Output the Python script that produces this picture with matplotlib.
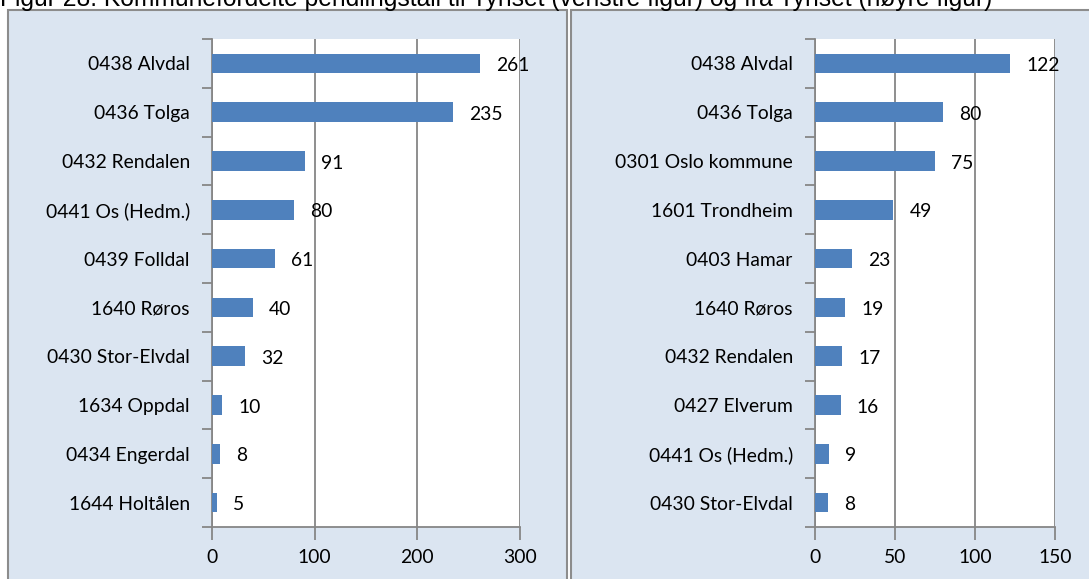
import matplotlib
matplotlib.use("Agg")
import matplotlib.pyplot as plt
from matplotlib.patches import Rectangle

left_labels = ["0438 Alvdal", "0436 Tolga", "0432 Rendalen", "0441 Os (Hedm.)", "0439 Folldal",
               "1640 Røros", "0430 Stor-Elvdal", "1634 Oppdal", "0434 Engerdal", "1644 Holtålen"]
left_values = [261, 235, 91, 80, 61, 40, 32, 10, 8, 5]
left_ticks = [0, 100, 200, 300]

right_labels = ["0438 Alvdal", "0436 Tolga", "0301 Oslo kommune", "1601 Trondheim", "0403 Hamar",
                "1640 Røros", "0432 Rendalen", "0427 Elverum", "0441 Os (Hedm.)", "0430 Stor-Elvdal"]
right_values = [122, 80, 75, 49, 23, 19, 17, 16, 9, 8]
right_ticks = [0, 50, 100, 150]

title = "Figur 28: Kommunefordelte pendlingstall til Tynset (venstre figur) og fra Tynset (høyre figur)"

W, H = 1089, 579
fig = plt.figure(figsize=(W / 100, H / 100), dpi=100)
fig.patch.set_facecolor("white")

panel_fc = "#DBE5F1"
panel_ec = "#8C8C8C"
fig.patches.append(Rectangle((8 / W, -0.1), 559 / W, 1.1 - 10 / H, transform=fig.transFigure,
                             facecolor=panel_fc, edgecolor=panel_ec, linewidth=1.5, zorder=-5))
fig.patches.append(Rectangle((571 / W, -0.1), 0.6, 1.1 - 10 / H, transform=fig.transFigure,
                             facecolor=panel_fc, edgecolor=panel_ec, linewidth=1.5, zorder=-5))

fig.text(0.0, 1 - 6 / H, title, family="Liberation Sans", fontsize=17.7, va="baseline", ha="left")

font = "Lato"
fs = 13.9
bar_color = "#4F81BD"
grid_color = "#868686"


def draw(ax, labels, values, ticks):
    y = list(range(len(labels)))
    ax.barh(y, values, height=0.4, color=bar_color, zorder=3)
    ax.set_ylim(len(labels) - 0.5, -0.5)
    ax.set_xlim(ticks[0], ticks[-1])
    ax.set_xticks(ticks)
    ax.set_xticklabels([str(t) for t in ticks], family=font, fontsize=fs)
    ax.set_yticks(y)
    ax.set_yticklabels(labels, family=font, fontsize=fs)
    ax.set_yticks([i + 0.5 for i in range(-1, len(labels))], minor=True)
    ax.tick_params(axis="y", which="major", length=0, pad=16)
    ax.tick_params(axis="y", which="minor", length=7, color=grid_color, width=1.3)
    ax.tick_params(axis="x", which="major", length=9, color=grid_color, width=1.3, pad=7)
    ax.set_facecolor("white")
    for s in ["top", "right"]:
        ax.spines[s].set_visible(False)
    for s in ["left", "bottom"]:
        ax.spines[s].set_color(grid_color)
        ax.spines[s].set_linewidth(1.3)
    ax.grid(axis="x", color=grid_color, linewidth=1.3, zorder=0)
    ax.set_axisbelow(True)
    for yi, v in zip(y, values):
        ax.annotate(str(v), xy=(v, yi), xytext=(11.5, -1.5), textcoords="offset points",
                    va="center", ha="left", family=font, fontsize=fs, zorder=5)


ax1 = fig.add_axes([212 / W, 1 - 527 / H, 308 / W, 488 / H])
draw(ax1, left_labels, left_values, left_ticks)
ax2 = fig.add_axes([815 / W, 1 - 527 / H, 240 / W, 488 / H])
draw(ax2, right_labels, right_values, right_ticks)

fig.savefig("out.png", dpi=100)
